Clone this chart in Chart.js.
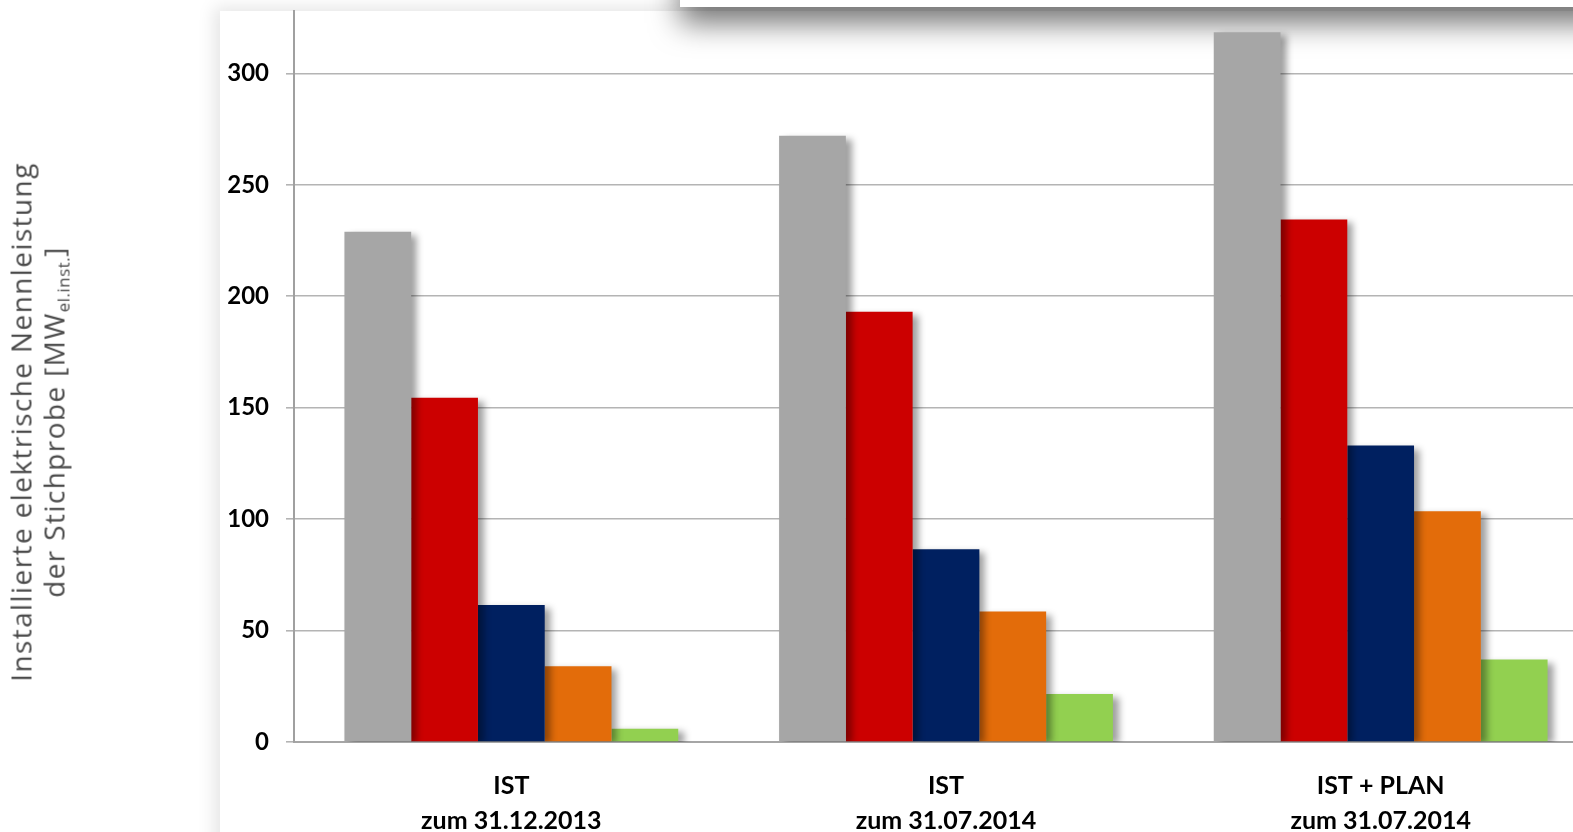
<!DOCTYPE html>
<html>
<head>
<meta charset="utf-8">
<script src="https://cdn.jsdelivr.net/npm/chart.js@4.4.1/dist/chart.umd.min.js"></script>
<style>
  html, body { margin:0; padding:0; width:1573px; height:832px; overflow:hidden; background:#fff; }
  #panel { position:absolute; left:220px; top:11px; width:1500px; height:900px; background:#fff;
           box-shadow: -6px -4px 16px rgba(0,0,0,0.10); }
  #topshade { position:absolute; left:680px; top:-40px; width:1000px; height:47px; background:#fff;
              box-shadow: 0 16px 30px rgba(0,0,0,0.55); }
  #wrap { position:absolute; left:0; top:0; width:1600px; height:832px; }
  #ytitle { position:absolute; left:42px; top:422px; transform:translate(-50%,-50%) rotate(-90deg);
            font-family:"Open Sans", sans-serif; font-weight:400; font-size:28px; letter-spacing:1.4px;
            color:#4a4a4a; text-align:center; line-height:33px; white-space:nowrap; }
  #ytitle sub { font-size:17px; vertical-align:-5px; letter-spacing:0.5px; }
</style>
</head>
<body>
<div id="panel"></div>
<div id="topshade"></div>
<div id="wrap"><canvas id="c" width="1600" height="832"></canvas></div>
<div id="ytitle">Installierte elektrische Nennleistung<br>der Stichprobe [MW<sub>el.inst.</sub>]</div>
<script>
const categories = [["IST", "zum 31.12.2013"], ["IST", "zum 31.07.2014"], ["IST + PLAN", "zum 31.07.2014"]];
const seriesGray   = [229, 272, 318.5];
const seriesRed    = [154.5, 193, 234.5];
const seriesBlue   = [61.5, 86.5, 133];
const seriesOrange = [34, 58.5, 103.5];
const seriesGreen  = [6, 21.5, 37];
const yTicks = [0, 50, 100, 150, 200, 250, 300];
const yMax = 328;

const colors = ["#a6a6a6", "#cc0000", "#002060", "#e36c0a", "#92d050"];
const seriesList = [seriesGray, seriesRed, seriesBlue, seriesOrange, seriesGreen];

const shadowPlugin = {
  id: 'barShadow',
  beforeDatasetsDraw(chart) {
    const ctx = chart.ctx;
    ctx.save();
    ctx.shadowColor = 'rgba(0,0,0,0.38)';
    ctx.shadowBlur = 7;
    ctx.shadowOffsetX = 6;
    ctx.shadowOffsetY = 3;
  },
  afterDatasetsDraw(chart) {
    chart.ctx.restore();
  }
};

new Chart(document.getElementById('c'), {
  type: 'bar',
  data: {
    labels: categories,
    datasets: seriesList.map((s, i) => ({
      data: s,
      backgroundColor: colors[i],
      borderWidth: 0,
      barPercentage: 1.0,
      categoryPercentage: 0.768
    }))
  },
  options: {
    responsive: false,
    animation: false,
    devicePixelRatio: 1,
    layout: { padding: { top: 11, right: 2, left: 0, bottom: 0 } },
    plugins: { legend: { display: false }, tooltip: { enabled: false } },
    scales: {
      x: {
        grid: { display: false, drawTicks: false },
        border: { display: true, color: '#a6a6a6', width: 2 },
        ticks: {
          color: '#000',
          font: { family: 'Lato, "Open Sans", sans-serif', size: 25, weight: 'bold', lineHeight: 1.4 },
          padding: 26,
          maxRotation: 0,
          autoSkip: false
        },
        afterFit(scale) { scale.height = 90; scale.paddingLeft = 0; scale.paddingRight = 0; }
      },
      y: {
        min: 0,
        max: yMax,
        afterBuildTicks(scale) { scale.ticks = yTicks.map(v => ({ value: v })); },
        grid: { color: '#b4b4b4', lineWidth: 1.6, tickLength: 8, drawTicks: true },
        border: { display: true, color: '#a0a0a0', width: 2 },
        ticks: {
          color: '#000',
          font: { family: 'Lato, "Open Sans", sans-serif', size: 24, weight: 'bold' },
          padding: 17
        },
        afterFit(scale) { scale.width = 294; scale.paddingTop = 0; scale.paddingBottom = 0; }
      }
    }
  },
  plugins: [shadowPlugin]
});
</script>
</body>
</html>
